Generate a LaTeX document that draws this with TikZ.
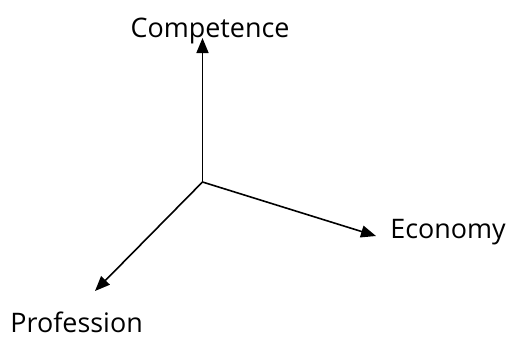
\documentclass[tikz,border=0pt]{standalone}
\usepackage{fontspec}
\setmainfont{Open Sans}
\usetikzlibrary{arrows.meta}
\begin{document}
\begin{tikzpicture}[x=1bp,y=-1bp,
  axis/.style={line width=1.6bp,-{Triangle[length=15bp,width=12bp]}},
  lbl/.style={inner sep=0pt,font=\fontsize{27}{32}\selectfont}]
\useasboundingbox (0,0) rectangle (509,345);
\coordinate (o) at (202.5,182);
\coordinate (c) at (202.5,38);
\coordinate (e) at (376,236);
\coordinate (p) at (95,291);
\draw[axis] (o) -- (c);
\draw[axis] (o) -- (e);
\draw[axis] (o) -- (p);
\node[lbl,anchor=base] (tc) at (210,37) {Competence};
\node[lbl,anchor=base east] (te) at (506,238) {Economy};
\node[lbl,anchor=base east] (tp) at (143,332) {Profession};
\end{tikzpicture}
\end{document}
